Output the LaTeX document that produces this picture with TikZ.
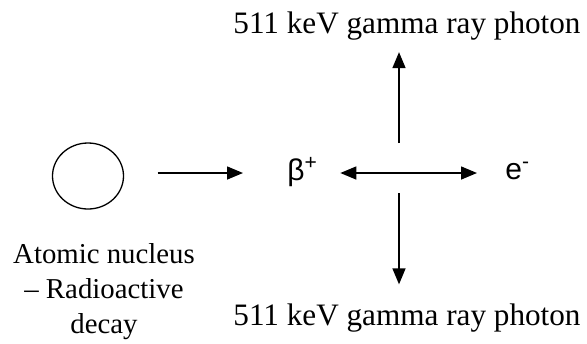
\documentclass[tikz,border=0pt]{standalone}
\usepackage{fontspec}
\setmainfont{Liberation Serif}
\newfontfamily\arialfont{Liberation Sans}
\usetikzlibrary{arrows.meta,shapes.geometric}
\tikzset{
    NUC/.style ={ellipse,minimum width = 35.5pt, minimum height = 33pt, inner sep=0pt, draw, line width=0.65pt},
    TX1/.style ={inner sep=0pt, font=\fontsize{15.6}{18}\selectfont},
    TX2/.style ={inner sep=0pt, align=center, font=\fontsize{14.4}{17.5}\selectfont},
    PA/.style ={inner sep=0pt, font=\arialfont\fontsize{15}{17}\selectfont},
    AR/.style ={line width=0.75pt, -{Triangle[length=8pt,width=6.5pt]}},
    AR2/.style ={line width=0.75pt, {Triangle[length=8pt,width=6.5pt]}-{Triangle[length=8pt,width=6.5pt]}}}

\begin{document}
\begin{tikzpicture}[x=0.5pt,y=-0.5pt]
    \useasboundingbox (0,0) rectangle (587,343);
    % nucleus and its caption
    \node[NUC] (nuc) at (88,176) {};
    \node[TX2,anchor=north] (cap) at (104,243) {Atomic nucleus\\ -- Radioactive\\ decay};
    % particles
    \node[PA,anchor=west] (beta) at (287,172) {β\textsuperscript{+}};
    \node[PA,anchor=west] (elec) at (505,171) {e\textsuperscript{-}};
    \coordinate (hub) at (399,173);
    % photons
    \node[TX1,anchor=base] (gup) at (407,33) {511 keV gamma ray photon};
    \node[TX1,anchor=base] (gdn) at (407,325) {511 keV gamma ray photon};
    % arrows
    \draw[AR,shorten <=16.75pt,shorten >=22pt] (nuc.east |- hub) -- (beta.west |- hub);
    \draw[AR2,shorten <=11pt,shorten >=14pt] (beta.east |- hub) -- (elec.west |- hub);
    \draw[AR,shorten <=15pt,shorten >=6pt] (hub) -- (hub |- gup.south);
    \draw[AR,shorten <=10pt,shorten >=9.3pt] (hub) -- (hub |- gdn.north);
\end{tikzpicture}
\end{document}
